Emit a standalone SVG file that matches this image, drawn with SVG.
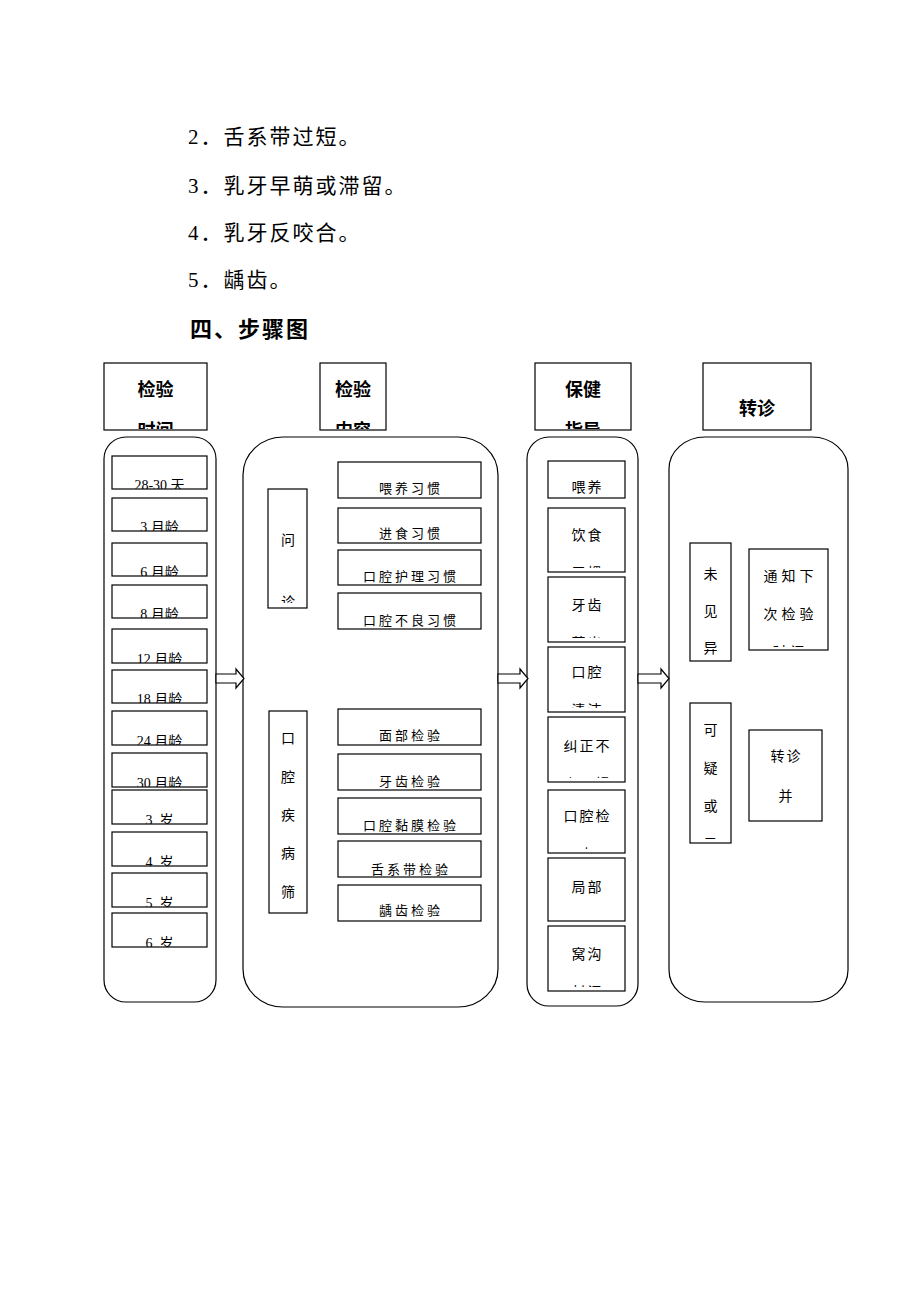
<svg xmlns="http://www.w3.org/2000/svg" width="920" height="1302" viewBox="0 0 920 1302">
<style>
.bx{fill:#fff;stroke:#000;stroke-width:1.2}
.col{fill:none;stroke:#000;stroke-width:1.2}
.arr{fill:#fff;stroke:#000;stroke-width:1.2}
.p{font-family:"Liberation Serif","Noto Sans CJK SC",serif;font-size:21px;letter-spacing:2px;fill:#000}
.h1{font-family:"Liberation Sans","Noto Sans CJK SC",sans-serif;font-size:22px;font-weight:bold;letter-spacing:2px;fill:#000}
.hd{font-family:"Noto Sans CJK SC",sans-serif;font-size:18px;font-weight:bold;fill:#000;text-anchor:middle}
.t{font-family:"Liberation Serif","Noto Sans CJK SC",serif;font-size:14px;fill:#000;text-anchor:middle;white-space:pre}
.m{font-family:"Noto Sans CJK SC",sans-serif;font-size:13px;letter-spacing:3px;fill:#000;text-anchor:middle}
.c{font-family:"Noto Sans CJK SC",sans-serif;font-size:14px;letter-spacing:2px;fill:#000;text-anchor:middle}
.v{font-family:"Noto Sans CJK SC",sans-serif;font-size:14px;fill:#000;text-anchor:middle}
.w{font-family:"Noto Sans CJK SC",sans-serif;font-size:14px;letter-spacing:4px;fill:#000;text-anchor:middle}
</style>
<defs>
<clipPath id="cH1"><rect x="104" y="363" width="103" height="66"/></clipPath>
<clipPath id="cH2"><rect x="320" y="363" width="66" height="66"/></clipPath>
<clipPath id="cH3"><rect x="535" y="363" width="96" height="66"/></clipPath>
<clipPath id="cL1"><rect x="112" y="456" width="95" height="33"/></clipPath>
<clipPath id="cL2"><rect x="112" y="498" width="95" height="33"/></clipPath>
<clipPath id="cL3"><rect x="112" y="543" width="95" height="33"/></clipPath>
<clipPath id="cL4"><rect x="112" y="585" width="95" height="33"/></clipPath>
<clipPath id="cL5"><rect x="112" y="629" width="95" height="34"/></clipPath>
<clipPath id="cL6"><rect x="112" y="670" width="95" height="33"/></clipPath>
<clipPath id="cL7"><rect x="112" y="711" width="95" height="34"/></clipPath>
<clipPath id="cL8"><rect x="112" y="753" width="95" height="34"/></clipPath>
<clipPath id="cL9"><rect x="112" y="790" width="95" height="34"/></clipPath>
<clipPath id="cL10"><rect x="112" y="832" width="95" height="34"/></clipPath>
<clipPath id="cL11"><rect x="112" y="873" width="95" height="34"/></clipPath>
<clipPath id="cL12"><rect x="112" y="913" width="95" height="34"/></clipPath>
<clipPath id="cWZ"><rect x="268" y="489" width="39" height="114"/></clipPath>
<clipPath id="cB"><rect x="548" y="508" width="77" height="60"/></clipPath>
<clipPath id="cC"><rect x="548" y="577" width="77" height="61"/></clipPath>
<clipPath id="cD"><rect x="548" y="647" width="77" height="61"/></clipPath>
<clipPath id="cE"><rect x="548" y="717" width="77" height="61"/></clipPath>
<clipPath id="cF"><rect x="548" y="790" width="77" height="59"/></clipPath>
<clipPath id="cG"><rect x="548" y="858" width="77" height="59"/></clipPath>
<clipPath id="cHh"><rect x="548" y="926" width="77" height="61"/></clipPath>
<clipPath id="cTZ"><rect x="749" y="549" width="79" height="98"/></clipPath>
<clipPath id="cKY"><rect x="690" y="703" width="41" height="136"/></clipPath>
</defs>
<rect x="0" y="0" width="920" height="1302" fill="#fff"/>

<g id="intro">
<text class="p" x="188" y="144">2．舌系带过短。</text>
<text class="p" x="188" y="193">3．乳牙早萌或滞留。</text>
<text class="p" x="188" y="240">4．乳牙反咬合。</text>
<text class="p" x="188" y="287">5．龋齿。</text>
<text class="h1" x="190" y="337">四、步骤图</text>
</g>

<g id="headers">
<g id="hdr-time"><rect class="bx" x="104" y="363" width="103" height="67"/>
<g clip-path="url(#cH1)"><text class="hd" x="155.5" y="396">检验</text><text class="hd" x="155.5" y="437">时间</text></g></g>
<g id="hdr-content"><rect class="bx" x="320" y="363" width="66" height="67"/>
<g clip-path="url(#cH2)"><text class="hd" x="353" y="396">检验</text><text class="hd" x="353" y="437">内容</text></g></g>
<g id="hdr-guide"><rect class="bx" x="535" y="363" width="96" height="67"/>
<g clip-path="url(#cH3)"><text class="hd" x="583" y="396">保健</text><text class="hd" x="583" y="437">指导</text></g></g>
<g id="hdr-referral"><rect class="bx" x="703" y="363" width="108" height="67"/>
<text class="hd" x="757" y="415">转诊</text></g>
</g>

<g id="columns">
<rect id="col-time" class="col" x="104" y="437" width="112" height="565" rx="22" ry="22"/>
<rect id="col-content" class="col" x="243" y="437" width="255" height="570" rx="40" ry="38"/>
<rect id="col-guide" class="col" x="527" y="437" width="111" height="569" rx="22" ry="22"/>
<rect id="col-referral" class="col" x="669" y="437" width="179" height="565" rx="36" ry="32"/>
</g>

<g id="connectors">
<polygon class="arr" points="216,674 236,674 236,669 244,678.5 236,688 236,683 216,683"/>
<polygon class="arr" points="498,674 520,674 520,669 528,678.5 520,688 520,683 498,683"/>
<polygon class="arr" points="638,674 661,674 661,669 669,678.5 661,688 661,683 638,683"/>
</g>

<g id="time-items">
<g id="t1"><rect class="bx" x="112" y="456" width="95" height="33"/><text class="t" clip-path="url(#cL1)" x="159.5" y="490">28-30 天</text></g>
<g id="t2"><rect class="bx" x="112" y="498" width="95" height="33"/><text class="t" clip-path="url(#cL2)" x="159.5" y="532">3 月龄</text></g>
<g id="t3"><rect class="bx" x="112" y="543" width="95" height="33"/><text class="t" clip-path="url(#cL3)" x="159.5" y="577">6 月龄</text></g>
<g id="t4"><rect class="bx" x="112" y="585" width="95" height="33"/><text class="t" clip-path="url(#cL4)" x="159.5" y="619">8 月龄</text></g>
<g id="t5"><rect class="bx" x="112" y="629" width="95" height="34"/><text class="t" clip-path="url(#cL5)" x="159.5" y="664">12 月龄</text></g>
<g id="t6"><rect class="bx" x="112" y="670" width="95" height="33"/><text class="t" clip-path="url(#cL6)" x="159.5" y="704">18 月龄</text></g>
<g id="t7"><rect class="bx" x="112" y="711" width="95" height="34"/><text class="t" clip-path="url(#cL7)" x="159.5" y="746">24 月龄</text></g>
<g id="t8"><rect class="bx" x="112" y="753" width="95" height="34"/><text class="t" clip-path="url(#cL8)" x="159.5" y="788">30 月龄</text></g>
<g id="t9"><rect class="bx" x="112" y="790" width="95" height="34"/><text class="t" clip-path="url(#cL9)" x="159.5" y="825" xml:space="preserve">3  岁</text></g>
<g id="t10"><rect class="bx" x="112" y="832" width="95" height="34"/><text class="t" clip-path="url(#cL10)" x="159.5" y="867" xml:space="preserve">4  岁</text></g>
<g id="t11"><rect class="bx" x="112" y="873" width="95" height="34"/><text class="t" clip-path="url(#cL11)" x="159.5" y="908" xml:space="preserve">5  岁</text></g>
<g id="t12"><rect class="bx" x="112" y="913" width="95" height="34"/><text class="t" clip-path="url(#cL12)" x="159.5" y="948" xml:space="preserve">6  岁</text></g>
</g>

<g id="content-items">
<g id="wenzhen"><rect class="bx" x="268" y="489" width="39" height="119"/>
<g clip-path="url(#cWZ)"><text class="v" x="288" y="545">问</text><text class="v" x="288" y="607">诊</text></g></g>
<g id="m1"><rect class="bx" x="338" y="462" width="143" height="36"/><text class="m" x="411" y="493">喂养习惯</text></g>
<g id="m2"><rect class="bx" x="338" y="508" width="143" height="35"/><text class="m" x="411" y="538">进食习惯</text></g>
<g id="m3"><rect class="bx" x="338" y="550" width="143" height="35"/><text class="m" x="411" y="581">口腔护理习惯</text></g>
<g id="m4"><rect class="bx" x="338" y="593" width="143" height="36"/><text class="m" x="411" y="625">口腔不良习惯</text></g>
<g id="screen"><rect class="bx" x="269" y="711" width="38" height="202"/>
<text class="v" x="288" y="743">口</text><text class="v" x="288" y="782">腔</text><text class="v" x="288" y="820">疾</text><text class="v" x="288" y="858">病</text><text class="v" x="288" y="897">筛</text></g>
<g id="m5"><rect class="bx" x="338" y="709" width="143" height="36"/><text class="m" x="411" y="740">面部检验</text></g>
<g id="m6"><rect class="bx" x="338" y="754" width="143" height="36"/><text class="m" x="411" y="786">牙齿检验</text></g>
<g id="m7"><rect class="bx" x="338" y="798" width="143" height="36"/><text class="m" x="411" y="830">口腔黏膜检验</text></g>
<g id="m8"><rect class="bx" x="338" y="841" width="143" height="36"/><text class="m" x="411" y="874">舌系带检验</text></g>
<g id="m9"><rect class="bx" x="338" y="885" width="143" height="36"/><text class="m" x="411" y="915">龋齿检验</text></g>
</g>

<g id="guide-items">
<g id="g1"><rect class="bx" x="548" y="461" width="77" height="37"/><text class="c" x="587.5" y="492">喂养</text></g>
<g id="g2"><rect class="bx" x="548" y="508" width="77" height="64"/><g clip-path="url(#cB)"><text class="c" x="587.5" y="540">饮食</text><text class="c" x="587.5" y="578">习惯</text></g></g>
<g id="g3"><rect class="bx" x="548" y="577" width="77" height="65"/><g clip-path="url(#cC)"><text class="c" x="587.5" y="610">牙齿</text><text class="c" x="587.5" y="648">萌出</text></g></g>
<g id="g4"><rect class="bx" x="548" y="647" width="77" height="65"/><g clip-path="url(#cD)"><text class="c" x="587.5" y="677">口腔</text><text class="c" x="587.5" y="715">清洁</text></g></g>
<g id="g5"><rect class="bx" x="548" y="717" width="77" height="65"/><g clip-path="url(#cE)"><text class="c" x="587.5" y="751">纠正不</text><text class="c" x="587.5" y="789">良习惯</text></g></g>
<g id="g6"><rect class="bx" x="548" y="790" width="77" height="63"/><g clip-path="url(#cF)"><text class="c" x="587.5" y="821">口腔检</text><text class="c" x="587.5" y="859">查</text></g></g>
<g id="g7"><rect class="bx" x="548" y="858" width="77" height="63"/><g clip-path="url(#cG)"><text class="c" x="587.5" y="892">局部</text><text class="c" x="587.5" y="930">涂氟</text></g></g>
<g id="g8"><rect class="bx" x="548" y="926" width="77" height="65"/><g clip-path="url(#cHh)"><text class="c" x="587.5" y="959">窝沟</text><text class="c" x="587.5" y="997">封闭</text></g></g>
</g>

<g id="referral-items">
<g id="normal"><rect class="bx" x="690" y="543" width="41" height="118"/>
<text class="v" x="710.5" y="579">未</text><text class="v" x="710.5" y="616">见</text><text class="v" x="710.5" y="653">异</text></g>
<g id="notify"><rect class="bx" x="749" y="549" width="79" height="101"/>
<g clip-path="url(#cTZ)"><text class="w" x="790.5" y="581">通知下</text><text class="w" x="790.5" y="619">次检验</text><text class="w" x="790.5" y="657">时间</text></g></g>
<g id="suspect"><rect class="bx" x="690" y="703" width="41" height="140"/>
<g clip-path="url(#cKY)"><text class="v" x="710.5" y="735">可</text><text class="v" x="710.5" y="773">疑</text><text class="v" x="710.5" y="811">或</text><text class="v" x="710.5" y="849">异</text></g></g>
<g id="refer"><rect class="bx" x="749" y="730" width="73" height="91"/>
<text class="c" x="786.5" y="761">转诊</text><text class="c" x="786.5" y="801">并</text></g>
</g>
</svg>
